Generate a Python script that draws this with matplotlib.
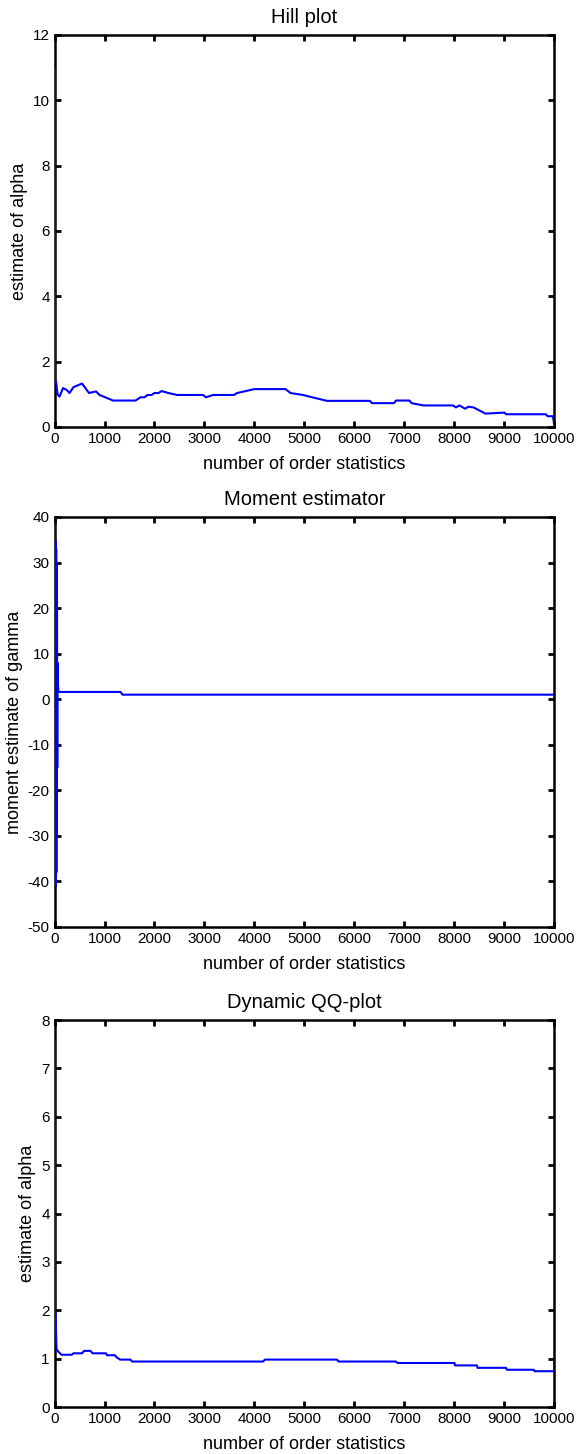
import matplotlib
matplotlib.use("Agg")
import matplotlib.pyplot as plt
import numpy as np

plt.rcParams['font.family'] = ['Liberation Sans', 'DejaVu Sans']
plt.rcParams['axes.unicode_minus'] = False

# ---- data ----
hill_k = [1, 3, 6, 10, 20, 35, 60, 100, 170, 240, 300, 380, 550, 690, 830, 900, 1030, 1170,
          1620, 1670, 1720, 1800, 1860, 1940, 2000, 2080, 2140, 2280, 2450, 2970, 3030, 3170,
          3590, 3650, 4000, 4620, 4720, 4970, 5100, 5450, 6310, 6345, 6790, 6830, 7100, 7140,
          7380, 7970, 8030, 8100, 8210, 8280, 8380, 8480, 8620, 9000, 9030, 9830, 9860,
          9970, 10000]
hill_alpha = [11.0, 11.0, 6.0, 1.4, 1.42, 1.35, 1.0, 0.93, 1.19, 1.14, 1.04, 1.22, 1.33, 1.04,
              1.09, 0.98, 0.90, 0.81, 0.81, 0.86, 0.91, 0.91, 0.98, 0.98, 1.04, 1.04, 1.10,
              1.04, 0.98, 0.98, 0.91, 0.98, 0.98, 1.04, 1.16, 1.16, 1.04, 0.98, 0.93, 0.80,
              0.80, 0.73, 0.73, 0.81, 0.81, 0.73, 0.66, 0.66, 0.60, 0.66, 0.56, 0.62, 0.60,
              0.52, 0.41, 0.44, 0.39, 0.39, 0.33, 0.33, 0.0]

moment_k = [1, 5, 9, 13, 17, 21, 25, 29, 33, 37, 41, 45, 50, 55, 60, 70, 80, 1320, 1360, 10000]
moment_gamma = [40, -20, 35, -41, 35, -41, 34, -40, 33, -38, 30, -30, 20, -15, 8, 3, 1.6, 1.6,
                1.0, 1.0]

qq_k = [1, 5, 10, 20, 40, 70, 140, 345, 380, 550, 590, 720, 760, 1030, 1050, 1210, 1240,
        1310, 1520, 1550, 4170, 4210, 5650, 5680, 6830, 6860, 8000, 8010, 8450, 8460, 9030,
        9050, 9590, 9600, 9990, 10000]
qq_alpha = [7.6, 7.6, 1.95, 1.95, 1.2, 1.15, 1.08, 1.08, 1.11, 1.11, 1.16, 1.16, 1.11, 1.11,
            1.07, 1.07, 1.03, 0.98, 0.98, 0.94, 0.94, 0.98, 0.98, 0.94, 0.94, 0.91, 0.91,
            0.86, 0.86, 0.81, 0.81, 0.77, 0.77, 0.74, 0.74, 1.0]

xticks = list(range(0, 10001, 1000))

fig = plt.figure(figsize=(5.78, 14.54), dpi=100)

def style(ax, title, ylabel, ylim, yticks):
    ax.set_xlim(0, 10000)
    ax.set_ylim(*ylim)
    ax.set_xticks(xticks)
    ax.set_yticks(yticks)
    ax.set_title(title, fontsize=14.5, pad=8.5)
    ax.set_xlabel("number of order statistics", fontsize=13, labelpad=7.5)
    ax.set_ylabel(ylabel, fontsize=13, labelpad=3.5)
    ax.tick_params(direction='in', top=True, right=True, length=4, width=2,
                   labelsize=11, pad=3.5)
    for s in ax.spines.values():
        s.set_linewidth(1.8)

L, W = 0.0943, 0.865

ax1 = fig.add_axes([L, 0.70633, W, 0.2696])
ax1.plot(hill_k, hill_alpha, color=(0, 0, 1), lw=1.5, zorder=3)
style(ax1, "Hill plot", "estimate of alpha", (0, 12), list(range(0, 13, 2)))

ax2 = fig.add_axes([L, 0.36245, W, 0.28198])
ax2.plot(moment_k, moment_gamma, color=(0, 0, 1), lw=1.5, zorder=3)
style(ax2, "Moment estimator", "moment estimate of gamma", (-50, 40), list(range(-50, 41, 10)))

ax3 = fig.add_axes([L, 0.03232, W, 0.26616])
ax3.plot(qq_k, qq_alpha, color=(0, 0, 1), lw=1.5, zorder=3)
style(ax3, "Dynamic QQ-plot", "estimate of alpha", (0, 8), list(range(0, 9, 1)))

fig.savefig("out.png", dpi=100)
